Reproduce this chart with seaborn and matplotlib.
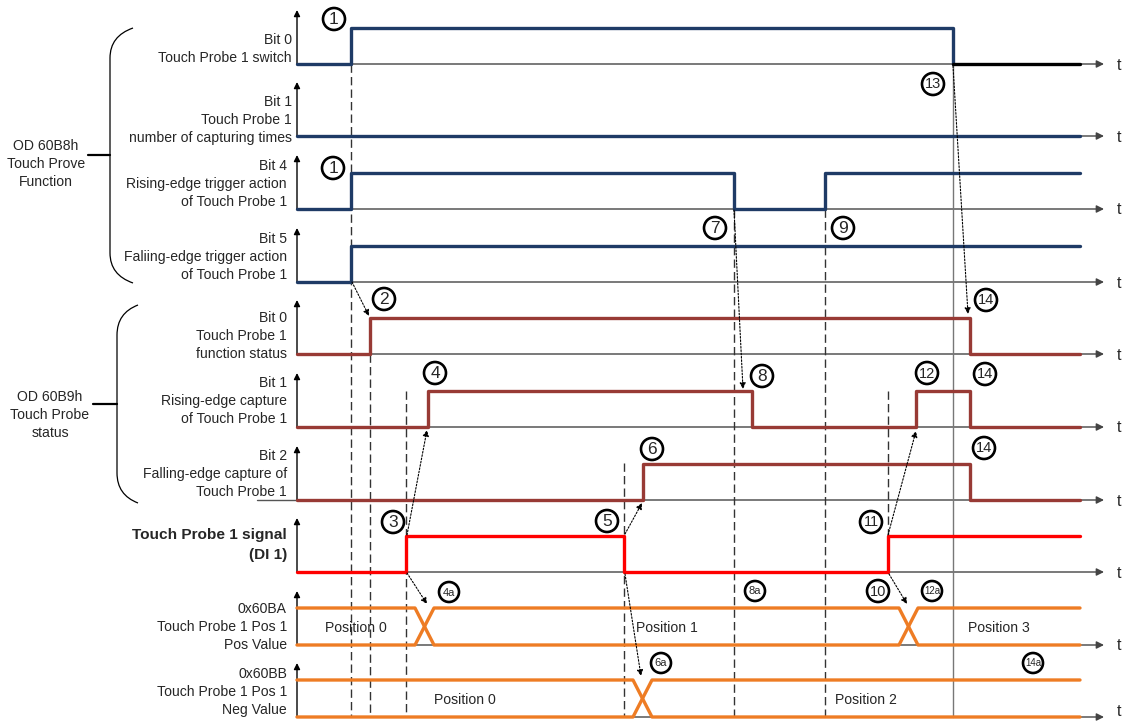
import numpy as np
import pandas as pd
import matplotlib.pyplot as plt
from matplotlib.path import Path
from matplotlib.patches import PathPatch, Circle
import seaborn as sns

sns.set_style('white')
plt.rcParams['font.family'] = ['Liberation Sans', 'DejaVu Sans']

### dados do diagrama (tempo em unidades do eixo horizontal)

t_start, t_end = 297, 1080

switch_t = [297, 351, 953]
switch_lv = [0, 1, 0]
bit1_t = [297]
bit1_lv = [0]
bit4_t = [297, 351, 734, 825]
bit4_lv = [0, 1, 0, 1]
bit5_t = [297, 351]
bit5_lv = [0, 1]
status_t = [297, 370, 970]
status_lv = [0, 1, 0]
cap_rise_t = [297, 428, 752, 916, 970]
cap_rise_lv = [0, 1, 0, 1, 0]
cap_fall_t = [297, 643, 970]
cap_fall_lv = [0, 1, 0]
di1_t = [297, 406, 624, 888]
di1_lv = [0, 1, 0, 1]

ba_cross = [415, 899]
ba_values = ['Position 0', 'Position 1', 'Position 3']
bb_cross = [633]
bb_values = ['Position 0', 'Position 2']

row_labels = [
    ['Bit 0', 'Touch Probe 1 switch'],
    ['Bit 1', 'Touch Probe 1', 'number of capturing times'],
    ['Bit 4', 'Rising-edge trigger action', 'of Touch Probe 1'],
    ['Bit 5', 'Faliing-edge trigger action', 'of Touch Probe 1'],
    ['Bit 0', 'Touch Probe 1', 'function status'],
    ['Bit 1', 'Rising-edge capture', 'of Touch Probe 1'],
    ['Bit 2', 'Falling-edge capture of', 'Touch Probe 1'],
    ['Touch Probe 1 signal', '(DI 1)'],
    ['0x60BA', 'Touch Probe 1 Pos 1', 'Pos Value'],
    ['0x60BB', 'Touch Probe 1 Pos 1', 'Neg Value'],
]
group_labels = [['OD 60B8h', 'Touch Prove', 'Function'],
                ['OD 60B9h', 'Touch Probe', 'status']]

# eventos (linhas tracejadas verticais)
events = [switch_t[1], status_t[1], di1_t[1], di1_t[2], bit4_t[2], bit4_t[3], di1_t[3]]
event_top = [64, 354, 391, 463, 209, 209, 391]
event_bot = [717, 717, 717, 717, 717, 717, 536]

# setas de causalidade
links = [((352, 282), (369, 316)), ((407, 535), (427, 430)), ((407, 573), (427, 604)),
         ((625, 534), (642, 503)), ((625, 574), (641, 676)), ((734, 210), (743, 389)),
         ((888, 535), (916, 431)), ((889, 574), (907, 604)), ((953, 66), (968, 314))]

marks = [('1', 334, 19), ('1', 333, 168), ('2', 384, 299), ('3', 393, 522), ('4', 435, 373),
         ('5', 607, 521), ('6', 652, 449), ('7', 715, 228), ('8', 762, 376), ('9', 843, 228),
         ('10', 878, 591), ('11', 871, 522), ('12', 927, 373), ('13', 933, 84),
         ('14', 986, 300), ('14', 985, 374), ('14', 984, 448)]
small_marks = [('4a', 449, 592), ('6a', 661, 663), ('8a', 755, 591), ('12a', 932, 591), ('14a', 1033, 663)]

base = [64, 136, 209, 282, 354, 427, 500, 572, 645, 717]
label_shift = [-6, 2, -7, -7, 0, -8, -8, -17, 0, -7]
H = 36

BLUE = '#1f3b66'
BROWN = '#983a35'
RED = '#ff0000'
ORANGE = '#ee7c24'

fig = plt.figure(figsize=(11.25, 7.23), dpi=100)
ax = fig.add_axes([0, 0, 1, 1])
ax.set_xlim(0, 1125)
ax.set_ylim(723, 0)
ax.axis('off')

fs = 10.1

# eixos
for i, b in enumerate(base):
    ax.annotate('', xy=(1104, b), xytext=(297, b),
                arrowprops=dict(arrowstyle='-|>', color='#444444', lw=1, mutation_scale=11,
                                shrinkA=0, shrinkB=0), zorder=1)
    ax.text(1117, min(b + 1, 711), 't', fontsize=11.5, va='center', ha='left')
    ax.annotate('', xy=(297, b - 54), xytext=(297, b),
                arrowprops=dict(arrowstyle='-|>', color='k', lw=1, mutation_scale=9,
                                shrinkA=0, shrinkB=0), zorder=1)
ax.plot([257, 297], [500, 500], color='#555555', lw=1)

# sinais digitais
def digital(t, lv, b, color, end=t_end):
    df = pd.DataFrame({'t': t + [end], 'y': [b - H * v for v in lv + [lv[-1]]]})
    sns.lineplot(data=df, x='t', y='y', ax=ax, drawstyle='steps-post', color=color,
                 lw=2.4, estimator=None, sort=False, zorder=4)

digital(switch_t, switch_lv, base[0], BLUE, end=switch_t[-1])
ax.plot([switch_t[-1], t_end], [base[0], base[0]], color='k', lw=2.4, zorder=4)
digital(bit1_t, bit1_lv, base[1], BLUE)
digital(bit4_t, bit4_lv, base[2], BLUE)
digital(bit5_t, bit5_lv, base[3], BLUE)
digital(status_t, status_lv, base[4], BROWN)
digital(cap_rise_t, cap_rise_lv, base[5], BROWN)
digital(cap_fall_t, cap_fall_lv, base[6], BROWN)
digital(di1_t, di1_lv, base[7], RED)

# barramentos (valores de posição)
def bus(cross, values, b, w=19):
    top, bot = b - 37, b
    xa, ya, xb, yb = [t_start], [top], [t_start], [bot]
    for c in cross:
        xa += [c, c + w]; ya += [ya[-1], bot if ya[-1] == top else top]
        xb += [c, c + w]; yb += [yb[-1], bot if yb[-1] == top else top]
    xa.append(t_end); ya.append(ya[-1])
    xb.append(t_end); yb.append(yb[-1])
    for xs, ys in ((xa, ya), (xb, yb)):
        sns.lineplot(x=xs, y=ys, ax=ax, color=ORANGE, lw=2.4, estimator=None, sort=False, zorder=4)
    edges = [t_start] + cross + [t_end]
    for k, v in enumerate(values):
        x0 = edges[k] + (w if k > 0 else 0)
        x1 = edges[k + 1]
        ax.text((x0 + x1) / 2, b - 17, v, fontsize=fs, ha='center', va='center', zorder=5)

bus(ba_cross, ba_values, base[8])
bus(bb_cross, bb_values, base[9])

# linhas de eventos
for x, y0, y1 in zip(events, event_top, event_bot):
    ax.plot([x, x], [y0, y1], color='#333333', lw=1, ls=(0, (6, 3)), zorder=2)
ax.plot([953, 953], [64, 717], color='#777777', lw=1, zorder=2)

# setas pontilhadas
for (x0, y0), (x1, y1) in links:
    ax.annotate('', xy=(x1, y1), xytext=(x0, y0),
                arrowprops=dict(arrowstyle='-|>', color='k', lw=0.8, ls=(0, (1.5, 1.5)),
                                mutation_scale=9, shrinkA=0, shrinkB=0), zorder=6)

# marcadores numerados
for s, x, y in marks:
    ax.add_patch(Circle((x, y), 11, fc='white', ec='k', lw=1.9, zorder=7))
    ax.text(x, y + 0.5, s, fontsize=12.5 if len(s) == 1 else 10.5, ha='center', va='center', zorder=8)
for s, x, y in small_marks:
    ax.add_patch(Circle((x, y), 10, fc='white', ec='k', lw=1.9, zorder=7))
    ax.text(x, y + 0.5, s, fontsize=8 if len(s) == 2 else 7, ha='center', va='center', zorder=8)

# rótulos das linhas
for i, lines in enumerate(row_labels):
    b = base[i] + label_shift[i]
    n = len(lines)
    bold = i == 7
    step = 20 if bold else 18
    xr = 292 if i < 2 else 287
    for k, s in enumerate(lines):
        y = b - step * (n - 1 - k)
        ax.text(xr, y, s, fontsize=11.1 if bold else fs, ha='right', va='center',
                fontweight='bold' if bold else 'normal')

# chaves e rótulos de grupo
def brace(xt, yt, yb, xl, xc, ym, x_lab, ys):
    verts = [(xt, yt), (xl, yt + 8), (xl, yt + 30), (xl, yb - 30), (xl, yb - 8), (xt, yb)]
    codes = [Path.MOVETO, Path.CURVE3, Path.CURVE3, Path.LINETO, Path.CURVE3, Path.CURVE3]
    ax.add_patch(PathPatch(Path(verts, codes), fc='none', ec='k', lw=0.9))
    ax.plot([xc, xl], [ym, ym], color='k', lw=1.6)
    for k, s in enumerate(ys[1]):
        ax.text(x_lab, ys[0] + 18 * k, s, fontsize=fs, ha='center', va='center')

brace(133, 28, 283, 110, 88, 155, 46, (146, group_labels[0]))
brace(138, 305, 503, 117, 93, 404, 50, (397, group_labels[1]))

fig.savefig('out.png', dpi=100)
